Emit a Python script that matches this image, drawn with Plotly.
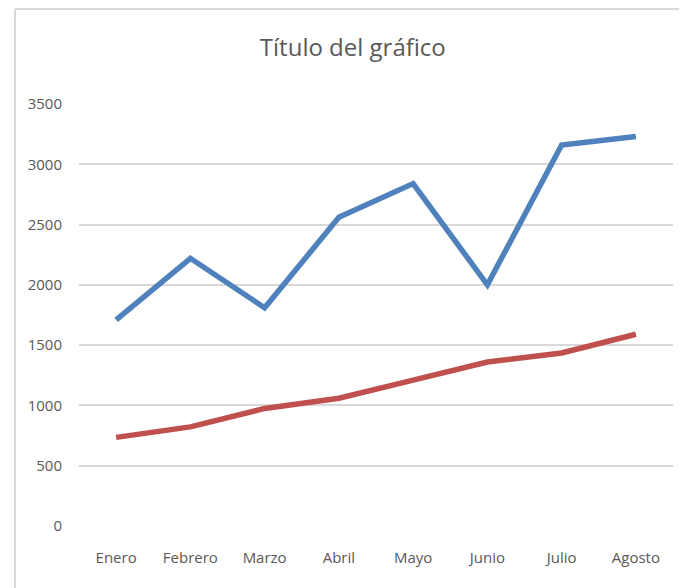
import plotly.graph_objects as go

meses = ["Enero", "Febrero", "Marzo", "Abril", "Mayo", "Junio", "Julio", "Agosto"]
serie_azul = [1710, 2220, 1810, 2560, 2840, 2000, 3160, 3230]
serie_roja = [735, 822, 975, 1060, 1210, 1360, 1435, 1590]
y_ticks = [0, 500, 1000, 1500, 2000, 2500, 3000, 3500]

fuente = "Open Sans, sans-serif"
gris = "#595959"

fig = go.Figure()
fig.add_trace(go.Scatter(x=meses, y=serie_azul, mode="lines",
                         line=dict(color="#4f81bd", width=5.5), name="Serie 1"))
fig.add_trace(go.Scatter(x=meses, y=serie_roja, mode="lines",
                         line=dict(color="#c0504d", width=5.5), name="Serie 2"))

# borde del área del gráfico (izquierda y arriba)
fig.add_shape(type="line", xref="paper", yref="paper", x0=-0.1077, x1=-0.1077,
              y0=-0.2, y1=1.225, line=dict(color="#d9d9d9", width=2))
fig.add_shape(type="line", xref="paper", yref="paper", x0=-0.1077, x1=1.05,
              y0=1.225, y1=1.225, line=dict(color="#d9d9d9", width=2))

fig.update_layout(
    width=687, height=588,
    margin=dict(l=71, r=22, t=96, b=70, autoexpand=False),
    paper_bgcolor="white", plot_bgcolor="white",
    showlegend=False,
    font=dict(family=fuente, color=gris, size=15),
    title=dict(text="Título del gráfico", x=0.461, xref="paper", xanchor="center",
               y=1 - 40 / 588, yref="container", yanchor="middle",
               font=dict(family=fuente, size=24, color=gris)),
)
fig.update_xaxes(range=[-0.5, 7.5], showgrid=False, showline=False, zeroline=False,
                 ticks="outside", ticklen=18, tickcolor="rgba(0,0,0,0)",
                 tickfont=dict(size=15, color=gris))
fig.update_yaxes(range=[0, 3500], tickvals=y_ticks, showgrid=True,
                 gridcolor="#d9d9d9", gridwidth=2, zeroline=False, showline=False,
                 ticks="outside", ticklen=13, tickcolor="rgba(0,0,0,0)",
                 tickfont=dict(size=15, color=gris))

fig.write_html("out.html")
